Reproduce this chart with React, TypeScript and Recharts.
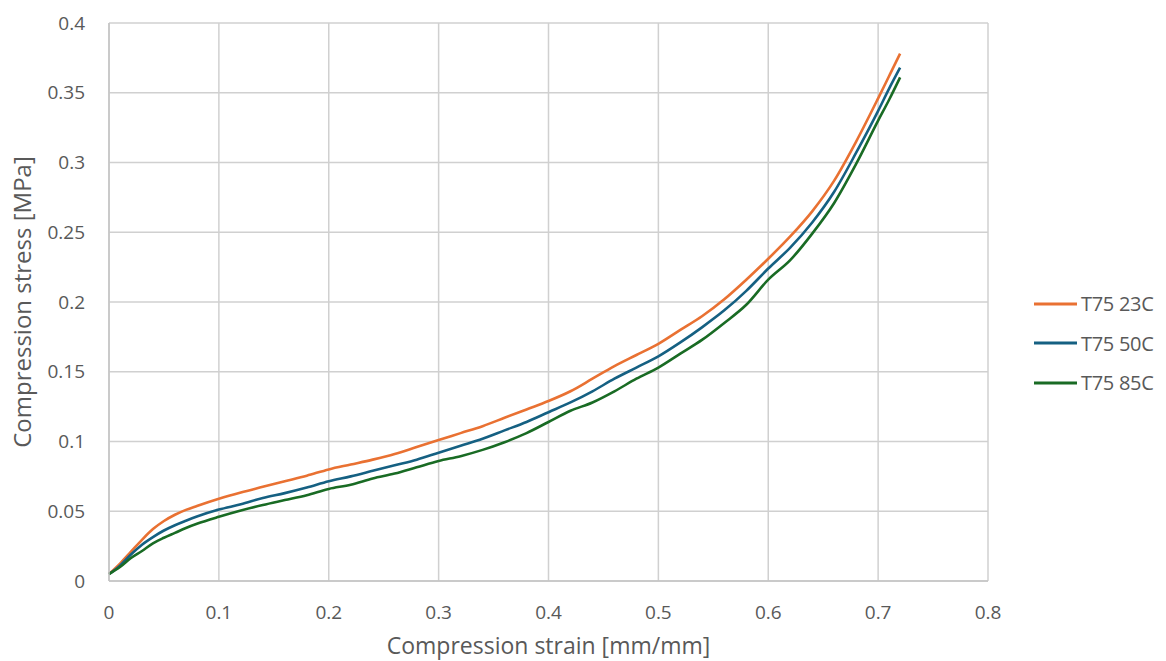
import { LineChart, Line, XAxis, YAxis, CartesianGrid, Legend, Label } from 'recharts'

const strain = [
  0, 0.01, 0.02, 0.03, 0.04, 0.05, 0.06, 0.07, 0.08, 0.1, 0.12, 0.14, 0.16, 0.18, 0.2, 0.22, 0.24, 0.26, 0.28, 0.3,
  0.32, 0.34, 0.36, 0.38, 0.4, 0.42, 0.44, 0.46, 0.48, 0.5, 0.52, 0.54, 0.56, 0.58, 0.6, 0.62, 0.64, 0.66, 0.68, 0.7,
  0.71, 0.72,
]

const stress23 = [
  0.005, 0.0125, 0.021, 0.0295, 0.0372, 0.043, 0.0475, 0.051, 0.0538, 0.059, 0.0635, 0.0675, 0.0715, 0.0755, 0.08,
  0.0835, 0.087, 0.091, 0.096, 0.101, 0.106, 0.111, 0.117, 0.123, 0.129, 0.136, 0.145, 0.154, 0.162, 0.17, 0.18, 0.19,
  0.202, 0.216, 0.231, 0.247, 0.265, 0.287, 0.315, 0.346, 0.362, 0.378,
]

const stress50 = [
  0.005, 0.011, 0.019, 0.026, 0.0315, 0.0362, 0.04, 0.0432, 0.0462, 0.0512, 0.055, 0.0595, 0.063, 0.067, 0.0715, 0.075,
  0.079, 0.083, 0.087, 0.092, 0.097, 0.102, 0.108, 0.114, 0.121, 0.128, 0.136, 0.145, 0.153, 0.161, 0.171, 0.182, 0.194,
  0.208, 0.224, 0.239, 0.257, 0.279, 0.307, 0.337, 0.353, 0.368,
]

const stress85 = [
  0.005, 0.01, 0.0165, 0.0215, 0.027, 0.031, 0.0345, 0.038, 0.041, 0.046, 0.0505, 0.0545, 0.058, 0.0615, 0.066, 0.069,
  0.0735, 0.077, 0.0815, 0.086, 0.0895, 0.094, 0.0995, 0.106, 0.114, 0.122, 0.128, 0.136, 0.145, 0.153, 0.163, 0.173,
  0.185, 0.198, 0.216, 0.23, 0.249, 0.271, 0.299, 0.33, 0.345, 0.361,
]

const xTicks = [0, 0.1, 0.2, 0.3, 0.4, 0.5, 0.6, 0.7, 0.8]
const yTicks = [0, 0.05, 0.1, 0.15, 0.2, 0.25, 0.3, 0.35, 0.4]

const series = [
  { key: 't23', name: 'T75 23C', color: '#E97132' },
  { key: 't50', name: 'T75 50C', color: '#156082' },
  { key: 't85', name: 'T75 85C', color: '#196B24' },
]

const data = strain.map((x, i) => ({ x, t23: stress23[i], t50: stress50[i], t85: stress85[i] }))

const font = '"Open Sans", Roboto, sans-serif'
const textColor = '#595959'

const renderLegend = (props: any) => {
  const { payload } = props
  return (
    <div>
      {payload.map((entry: any) => (
        <div key={entry.value} style={{ display: 'flex', alignItems: 'center', height: 39.5 }}>
          <svg width={43} height={4} style={{ marginRight: 4 }}>
            <line x1={0} y1={2} x2={43} y2={2} stroke={entry.color} strokeWidth={3} />
          </svg>
          <span style={{ fontFamily: font, fontSize: 20, color: textColor, letterSpacing: -0.3 }}>{entry.value}</span>
        </div>
      ))}
    </div>
  )
}

const App = () => {
  return (
    <div style={{ position: 'absolute', left: 0, top: 0, background: '#fff' }}>
      <LineChart width={1166} height={661} data={data} margin={{ top: 23, right: 178, left: 0, bottom: 0 }}>
        <CartesianGrid stroke="#d0d0d0" strokeWidth={1.5} />
        <XAxis
          dataKey="x"
          type="number"
          domain={[0, 0.8]}
          ticks={xTicks}
          tickFormatter={(v) => String(v)}
          height={80}
          tickSize={0}
          tickMargin={25}
          axisLine={{ stroke: '#c4c4c4', strokeWidth: 1.5 }}
          tick={{ fill: textColor, fontSize: 19, fontFamily: font }}
        >
          <Label
            value="Compression strain [mm/mm]"
            position="insideBottom"
            offset={7}
            style={{ fill: textColor, fontSize: 23, fontFamily: font }}
          />
        </XAxis>
        <YAxis
          type="number"
          domain={[0, 0.4]}
          ticks={yTicks}
          tickFormatter={(v) => String(v)}
          width={109}
          tickSize={0}
          tickMargin={24}
          axisLine={{ stroke: '#c4c4c4', strokeWidth: 1.5 }}
          tick={{ fill: textColor, fontSize: 19, fontFamily: font }}
        >
          <Label
            value="Compression stress [MPa]"
            angle={-90}
            position="insideLeft"
            offset={22}
            style={{ fill: textColor, fontSize: 24, fontFamily: font, textAnchor: 'middle' }}
          />
        </YAxis>
        <Legend
          layout="vertical"
          align="center"
          verticalAlign="middle"
          content={renderLegend}
          wrapperStyle={{ left: 1034, top: 284, width: 132 }}
        />
        {series.map((s) => (
          <Line
            key={s.key}
            dataKey={s.key}
            name={s.name}
            stroke={s.color}
            strokeWidth={2.6}
            dot={false}
            type="monotone"
            isAnimationActive={false}
          />
        ))}
      </LineChart>
    </div>
  )
}

export default App
